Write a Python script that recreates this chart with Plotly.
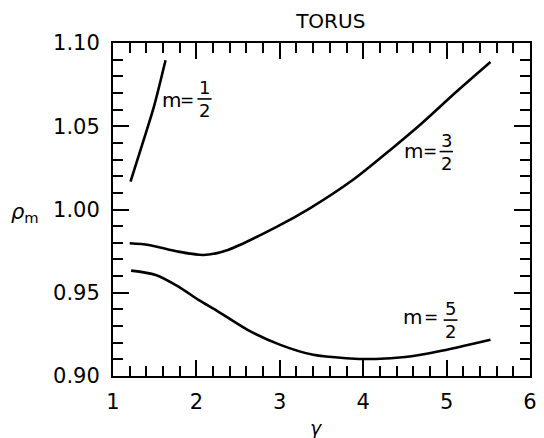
import plotly.graph_objects as go

# rho_m against gamma for three values of m
gamma_m_half = [1.21, 1.35, 1.49, 1.63]
rho_m_half = [1.0167, 1.039, 1.0616, 1.0896]

gamma_m_3half = [1.20, 1.43, 1.785, 2.085, 2.378, 2.967, 3.36, 3.874, 4.346, 4.70, 5.094, 5.526]
rho_m_3half = [0.9797, 0.9787, 0.9747, 0.9727, 0.9757, 0.9897, 1.0007, 1.0177, 1.0367, 1.0517, 1.0697, 1.0886]

gamma_m_5half = [1.217, 1.512, 1.785, 2.025, 2.261, 2.614, 3.007, 3.401, 3.795, 4.15, 4.503, 4.896, 5.526]
rho_m_5half = [0.9633, 0.9607, 0.9537, 0.9457, 0.9387, 0.9277, 0.9187, 0.9127, 0.9107, 0.9102, 0.9114, 0.9147, 0.9218]

x_ticks = [1, 2, 3, 4, 5, 6]
y_ticks = [0.90, 0.95, 1.00, 1.05, 1.10]

# curve labels "m = n/2": positions of "m", "=", the fraction centre and its bar
labels = [
    dict(mx=1.699, ex=1.890, ty=1.0660, fx=2.097, num="1", by=1.0664, hw=0.085),
    dict(mx=4.602, ex=4.799, ty=1.0350, fx=4.996, num="3", by=1.0348, hw=0.080),
    dict(mx=4.592, ex=4.817, ty=0.9352, fx=5.047, num="5", by=0.9336, hw=0.083),
]

FONT = "DejaVu Sans"
BLACK = "#000000"

fig = go.Figure()
for gx, ry in [(gamma_m_half, rho_m_half), (gamma_m_3half, rho_m_3half), (gamma_m_5half, rho_m_5half)]:
    fig.add_trace(go.Scatter(
        x=gx, y=ry, mode="lines",
        line=dict(color=BLACK, width=2.6, shape="spline", smoothing=0.8),
        showlegend=False, hoverinfo="skip",
    ))


def text_note(x, y, text, size, xref="x", yref="y", xanchor="center", yanchor="middle", pad=1):
    return dict(x=x, y=y, xref=xref, yref=yref, text=text, showarrow=False,
                xanchor=xanchor, yanchor=yanchor, borderpad=pad,
                font=dict(family=FONT, size=size, color=BLACK))


annotations = []
shapes = []
for lab in labels:
    annotations.append(text_note(lab["mx"], lab["ty"], "m", 20))
    annotations.append(text_note(lab["ex"], lab["ty"], "=", 17))
    # numerator sits on the fraction bar, denominator hangs below it
    annotations.append(text_note(lab["fx"], lab["by"], lab["num"], 18, yanchor="bottom", pad=0))
    annotations.append(text_note(lab["fx"], lab["by"], "2", 18, yanchor="top", pad=0))
    shapes.append(dict(
        type="line", xref="x", yref="y",
        x0=lab["fx"] - lab["hw"], x1=lab["fx"] + lab["hw"], y0=lab["by"], y1=lab["by"],
        line=dict(color=BLACK, width=1.6),
    ))

# axis titles
annotations.append(text_note(-0.25, 0.49, "<i>ρ</i><sub>m</sub>", 21,
                             xref="paper", yref="paper", xanchor="left"))
annotations.append(text_note(0.4875, -0.118, "<i>γ</i>", 19,
                             xref="paper", yref="paper", yanchor="top"))

axis_common = dict(
    showgrid=False, zeroline=False, showline=True, linecolor=BLACK, linewidth=2,
    mirror="allticks", ticks="inside", ticklen=16, tickwidth=2, tickcolor=BLACK,
    tickfont=dict(family=FONT, size=21, color=BLACK),
)

fig.update_layout(
    width=544, height=438,
    margin=dict(l=113, r=7, t=43, b=62),
    paper_bgcolor="white", plot_bgcolor="white",
    title=dict(text="TORUS", x=0.608, xanchor="center", y=0.952, yanchor="middle",
               font=dict(family=FONT, size=20, color=BLACK)),
    xaxis=dict(range=[1, 6], tickvals=x_ticks, ticktext=[str(v) for v in x_ticks],
               minor=dict(dtick=0.2, tick0=1, ticks="inside", ticklen=10, tickwidth=2, tickcolor=BLACK),
               ticklabelstandoff=6, **axis_common),
    yaxis=dict(range=[0.90, 1.10], tickvals=y_ticks, ticktext=[f"{v:.2f}" for v in y_ticks],
               minor=dict(dtick=0.01, tick0=0.90, ticks="inside", ticklen=10, tickwidth=2, tickcolor=BLACK),
               ticklabelstandoff=7, **axis_common),
    annotations=annotations,
    shapes=shapes,
)

fig.write_html("out.html")
